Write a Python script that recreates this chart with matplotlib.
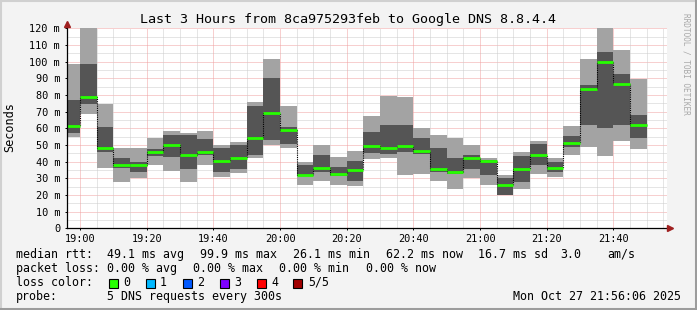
import matplotlib
matplotlib.use("Agg")
import matplotlib.pyplot as plt
from matplotlib.lines import Line2D
from matplotlib.patches import Rectangle

# ---- data (minutes relative to 19:00; each bar covers 5 minutes) ----
bar_start = [-5 + 5 * i for i in range(35)]
ping_min = [55, 68.8, 36.3, 28, 30, 37.8, 34.6, 27.8, 38.2, 30.6, 33.4, 42.4, 50, 48.4, 26.2, 28.2, 26.2, 25.1,
            41.4, 42.4, 32.2, 32.6, 28.2, 23.8, 30.4, 26, 20.2, 23.8, 32.4, 30.6, 43.8, 48.6, 43.6, 52.2, 47.6]
ping_low = [57.4, 74.6, 46, 36, 34, 43.2, 43, 35.8, 44, 34, 35.6, 44, 53, 50.6, 31.5, 34, 31.4, 28.5,
            45.4, 44.6, 45.8, 44.6, 33.8, 32.6, 35.8, 32.2, 20.2, 27.8, 38.2, 34, 49, 62, 60, 62, 54]
median = [61.4, 78.8, 48.4, 38.1, 38.1, 45.8, 50.2, 44.2, 45.8, 40.2, 41.9, 54.2, 69.4, 59.2, 32.2, 36.2, 32.6, 34.8,
          49.4, 48.4, 49.6, 46.3, 35.8, 34, 41.9, 40.4, 26.1, 35.8, 44.2, 36.4, 51.4, 83.8, 99.9, 86.8, 62.2]
ping_high = [77, 98.6, 60.8, 42.2, 39.8, 47.4, 55.9, 55.9, 53.8, 48.2, 49.8, 73.4, 90.2, 60.6, 38, 44, 37, 40.3,
             58, 61.8, 61.8, 54.2, 48.2, 42.2, 44.2, 41, 30.2, 43.4, 50.6, 39.8, 55.4, 85.8, 105.8, 92.6, 68]
ping_max = [98.6, 120, 74.6, 48.2, 48.2, 54.4, 58.5, 57.4, 58.4, 49.8, 51.6, 75.8, 101.6, 73.4, 39.8, 49.8, 43, 46.4,
            67.4, 79.4, 78.8, 60.2, 55.8, 54.2, 49.9, 42.2, 32, 45.8, 52.6, 42.2, 61.4, 101.6, 120, 107, 89.8]

x_ticks = [0, 20, 40, 60, 80, 100, 120, 140, 160]
x_labels = ["19:00", "19:20", "19:40", "20:00", "20:20", "20:40", "21:00", "21:20", "21:40"]
y_ticks = [0, 10, 20, 30, 40, 50, 60, 70, 80, 90, 100, 110, 120]
y_labels = ["0"] + [f"{v} m" for v in y_ticks[1:]]

loss_names = ["0", "1", "2", "3", "4", "5/5"]
loss_colors = ["#26ff00", "#00b8ff", "#0059ff", "#7e00ff", "#ff0000", "#a10000"]

title = "Last 3 Hours from 8ca975293feb to Google DNS 8.8.4.4"
xmin, xmax = -3.9, 176.1

W, H = 697, 310
MONO = "DejaVu Sans Mono"
fig = plt.figure(figsize=(W / 100, H / 100), dpi=100)
fig.patch.set_facecolor("#f3f3f3")

ax_l, ax_r, ax_t, ax_b = 67, 667, 28.3, 228.3
ax = fig.add_axes([ax_l / W, 1 - ax_b / H, (ax_r - ax_l) / W, (ax_b - ax_t) / H])
ax.set_facecolor("white")
ax.set_xlim(xmin, xmax)
ax.set_ylim(0, 120)
for s in ax.spines.values():
    s.set_visible(False)

# grid
lw1 = 0.72
for v in range(5, 121, 5):
    col = "#f0a0a0" if v % 10 == 0 else "#cccccc"
    ax.axhline(v, color=col, lw=lw1, ls=(0, (1, 1)), zorder=0)
for m in range(0, 176, 5):
    col = "#f0a0a0" if m % 20 == 0 else "#cccccc"
    ax.axvline(m, color=col, lw=lw1, ls=(0, (1, 1)), zorder=0)

# smoke
ax.bar(bar_start, [b - a for a, b in zip(ping_min, ping_max)], bottom=ping_min, width=5, align="edge",
       color="#a3a3a3", linewidth=0, zorder=2)
ax.bar(bar_start, [b - a for a, b in zip(ping_low, ping_high)], bottom=ping_low, width=5, align="edge",
       color="#555555", linewidth=0, zorder=3)
# median step (black transitions) and green medians
sx = bar_start + [bar_start[-1] + 5]
sy = median + [median[-1]]
ax.step(sx, sy, where="post", color="black", lw=0.8, ls=(0, (1, 1)), zorder=4)
ax.hlines(median, bar_start, [b + 5 for b in bar_start], color=loss_colors[0], lw=2.0, zorder=5)

# ticks
ax.set_xticks(x_ticks)
ax.set_xticklabels(x_labels, fontsize=7.4, family=MONO)
ax.set_yticks(y_ticks)
ax.set_yticklabels(y_labels, fontsize=7.4, family=MONO)
ax.tick_params(axis="y", length=1.5, width=0.7, pad=3.5, direction="out")
ax.tick_params(axis="x", length=1.5, width=0.7, pad=2.5, direction="out")

# axes lines with arrows
ax.add_line(Line2D([0, 0], [0, 1.03], transform=ax.transAxes, color="black", lw=0.9, clip_on=False, zorder=6))
ax.add_line(Line2D([0, 1.008], [0, 0], transform=ax.transAxes, color="black", lw=0.9, clip_on=False, zorder=6))
ax.plot([0], [1.024], marker="^", ms=4.5, color="#a02020", transform=ax.transAxes, clip_on=False, zorder=7)
ax.plot([1.005], [0], marker=">", ms=4.5, color="#a02020", transform=ax.transAxes, clip_on=False, zorder=7)

def ft(x, y, s, **kw):
    kw.setdefault("fontsize", 8.4)
    kw.setdefault("family", MONO)
    kw.setdefault("va", "center")
    fig.text(x / W, 1 - y / H, s, **kw)

ft(348, 19, title, ha="center", fontsize=9.6)
ft(10, 127, "Seconds", ha="center", rotation=90, fontsize=8.6)
ft(686, 64, "RRDTOOL / TOBI OETIKER", ha="center", rotation=270, fontsize=5.6, color="#a8a8a8")

r1 = 254.3
ft(16, r1, "median rtt:")
for x, s in [(107, "49.1 ms avg"), (200, "99.9 ms max"), (293, "26.1 ms min"), (386, "62.2 ms now"),
             (478, "16.7 ms sd"), (560, "3.0"), (607, "am/s")]:
    ft(x, r1, s)
r2 = 268.3
ft(16, r2, "packet loss:")
for x, s in [(107, "0.00 % avg"), (193, "0.00 % max"), (279, "0.00 % min"), (366, "0.00 % now")]:
    ft(x, r2, s)
r3 = 282.3
ft(16, r3, "loss color:")
sq_x = [109, 146, 183, 220, 257, 293]
lb_x = [123, 160, 197, 234, 271, 308]
for sxp, lx, name, col in zip(sq_x, lb_x, loss_names, loss_colors):
    fig.patches.append(Rectangle((sxp / W, 1 - 287.5 / H), 9 / W, 9 / H, transform=fig.transFigure,
                                 facecolor=col, edgecolor="black", lw=0.8))
    ft(lx, r3, name)
r4 = 296.3
ft(16, r4, "probe:")
ft(107, r4, "5 DNS requests every 300s")
ft(681, r4, "Mon Oct 27 21:56:06 2025", ha="right")

# image border
fig.add_artist(Line2D([0, 1], [1 - 0.5 / H, 1 - 0.5 / H], transform=fig.transFigure, color="#d0d0d0", lw=1.5))
fig.add_artist(Line2D([0.5 / W, 0.5 / W], [0, 1], transform=fig.transFigure, color="#d0d0d0", lw=1.5))
fig.add_artist(Line2D([0, 1], [1.5 / H, 1.5 / H], transform=fig.transFigure, color="#9c9c9c", lw=2.2))
fig.add_artist(Line2D([1 - 1.5 / W, 1 - 1.5 / W], [0, 1], transform=fig.transFigure, color="#9c9c9c", lw=2.2))

fig.savefig("out.png", dpi=100, facecolor=fig.get_facecolor())
